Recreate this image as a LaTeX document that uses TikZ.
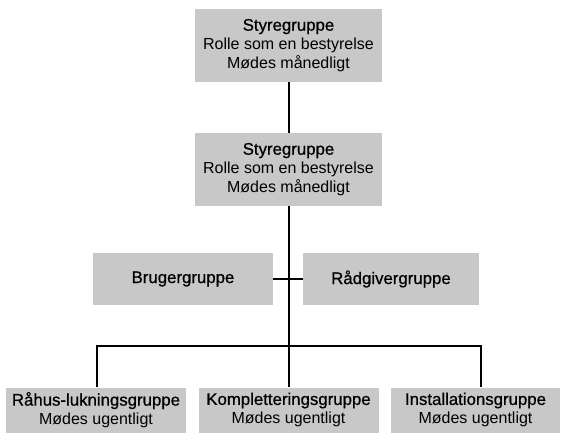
\documentclass[tikz,border=0pt]{standalone}
\usepackage{fontspec}
\setmainfont{Liberation Sans}
\newfontfamily\medfontraw[FakeBold=0.7]{Liberation Sans}
\newcommand{\medfont}{\medfontraw\fontsize{16.8}{19}\selectfont}
\definecolor{boxgray}{RGB}{200,200,200}
\begin{document}
\begin{tikzpicture}[x=1pt,y=-1pt,
  box/.style={fill=boxgray, inner sep=0pt, align=center, font=\fontsize{16}{19}\selectfont},
  link/.style={line width=2pt, draw=black}]
\useasboundingbox (0,0) rectangle (564,435);
\node[box, minimum width=187pt, minimum height=73pt] (top) at (288.5,45.5)
  {{\medfont Styregruppe}\\Rolle som en bestyrelse\\Mødes månedligt};
\node[box, minimum width=187pt, minimum height=73pt] (sec) at (288.5,169.5)
  {{\medfont Styregruppe}\\Rolle som en bestyrelse\\Mødes månedligt};
\node[box, minimum width=180pt, minimum height=52pt] (brug) at (183,279)
  {\medfont Brugergruppe};
\node[box, minimum width=176pt, minimum height=52pt] (raad) at (391,279)
  {\medfont Rådgivergruppe};
\node[box, minimum width=180pt, minimum height=45pt] (left) at (96,410)
  {{\medfont Råhus-lukningsgruppe}\\Mødes ugentligt};
\node[box, minimum width=180pt, minimum height=45pt] (mid) at (288.5,410)
  {{\medfont Kompletteringsgruppe}\\Mødes ugentligt};
\node[box, minimum width=169pt, minimum height=45pt] (right) at (475.5,410)
  {{\medfont Installationsgruppe}\\Mødes ugentligt};
\coordinate (dropL) at (97,346);
\coordinate (dropR) at (481,346);
\draw[link] (top.south) -- (sec.north);
\draw[link] (sec.south) -- (mid.north);
\draw[link] (brug.east) -- (raad.west);
\draw[link] (left.north -| dropL) -- (dropL) -- (dropR) -- (right.north -| dropR);
\end{tikzpicture}
\end{document}
